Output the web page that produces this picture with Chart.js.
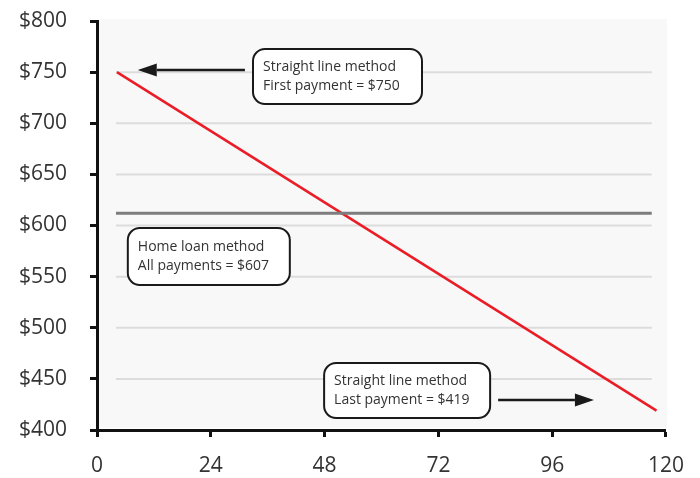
<!DOCTYPE html>
<html>
<head>
<meta charset="utf-8">
<script src="https://cdn.jsdelivr.net/npm/chart.js@4/dist/chart.umd.min.js"></script>
<style>
    html, body { margin: 0; padding: 0; background: #fff; }
    #wrap { width: 700px; height: 478px; }
</style>
</head>
<body>
<div id="wrap"><canvas id="loanChart"></canvas></div>
<script>
// Data
const straightMonths = [4.2, 118];
const straightPayments = [750, 419];
const homeLoanMonths = [4, 117];
const homeLoanPayments = [612, 612];
const gridValues = [450, 500, 550, 600, 650, 700, 750];
const gridSpan = [4, 117];

const FONT = "'Open Sans', 'Noto Sans', sans-serif";

// Annotation boxes, anchored in data units (month, dollars)
const notes = [
    { x: 32.9, y: 772.6, w: 169, h: 55, lines: ['Straight line method', 'First payment = $750'] },
    { x: 6.5, y: 597.6, w: 162, h: 57, lines: ['Home loan method', 'All payments = $607'] },
    { x: 47.9, y: 465.5, w: 166, h: 55, lines: ['Straight line method', 'Last payment = $419'] }
];
const arrows = [
    { from: [31.2, 752], to: [8.6, 752] },
    { from: [84.6, 429.3], to: [104.8, 429.3] }
];

const toPoints = (xs, ys) => xs.map((x, i) => ({ x: x, y: ys[i] }));

// plot background + light gridlines that stop short of the axes
const backdrop = {
    id: 'backdrop',
    beforeDatasetsDraw(chart) {
        const { ctx, chartArea, scales } = chart;
        ctx.save();
        ctx.fillStyle = '#f8f8f8';
        ctx.fillRect(chartArea.left + 2, chartArea.top - 2, chartArea.right - chartArea.left - 1, chartArea.bottom - chartArea.top);
        ctx.strokeStyle = '#dcdcdc';
        ctx.lineWidth = 2;
        const x0 = scales.x.getPixelForValue(gridSpan[0]);
        const x1 = scales.x.getPixelForValue(gridSpan[1]);
        gridValues.forEach(v => {
            const y = scales.y.getPixelForValue(v);
            ctx.beginPath();
            ctx.moveTo(x0, y);
            ctx.lineTo(x1, y);
            ctx.stroke();
        });
        ctx.restore();
    }
};

function roundRect(ctx, x, y, w, h, r) {
    ctx.beginPath();
    ctx.moveTo(x + r, y);
    ctx.arcTo(x + w, y, x + w, y + h, r);
    ctx.arcTo(x + w, y + h, x, y + h, r);
    ctx.arcTo(x, y + h, x, y, r);
    ctx.arcTo(x, y, x + w, y, r);
    ctx.closePath();
}

const callouts = {
    id: 'callouts',
    afterDatasetsDraw(chart) {
        const { ctx, scales } = chart;
        ctx.save();
        notes.forEach(n => {
            const left = scales.x.getPixelForValue(n.x);
            const top = scales.y.getPixelForValue(n.y);
            roundRect(ctx, left, top, n.w, n.h, 12);
            ctx.fillStyle = '#fff';
            ctx.fill();
            ctx.lineWidth = 2;
            ctx.strokeStyle = '#1a1a1a';
            ctx.stroke();
            ctx.fillStyle = '#333';
            ctx.font = '14px ' + FONT;
            ctx.textBaseline = 'middle';
            ctx.textAlign = 'left';
            const mid = top + n.h / 2;
            ctx.fillText(n.lines[0], left + 10, mid - 9.5);
            ctx.fillText(n.lines[1], left + 10, mid + 9.5);
        });
        arrows.forEach(a => {
            const fx = scales.x.getPixelForValue(a.from[0]);
            const fy = scales.y.getPixelForValue(a.from[1]);
            const tx = scales.x.getPixelForValue(a.to[0]);
            const ty = scales.y.getPixelForValue(a.to[1]);
            const dir = Math.sign(tx - fx);
            const head = 19;
            ctx.strokeStyle = '#1a1a1a';
            ctx.fillStyle = '#1a1a1a';
            ctx.lineWidth = 2.5;
            ctx.beginPath();
            ctx.moveTo(fx, fy);
            ctx.lineTo(tx - dir * head, ty);
            ctx.stroke();
            ctx.beginPath();
            ctx.moveTo(tx, ty);
            ctx.lineTo(tx - dir * head, ty - 6.5);
            ctx.lineTo(tx - dir * head, ty + 6.5);
            ctx.closePath();
            ctx.fill();
        });
        ctx.restore();
    }
};

new Chart(document.getElementById('loanChart').getContext('2d'), {
    type: 'line',
    data: {
        datasets: [
            {
                label: 'Home loan method',
                data: toPoints(homeLoanMonths, homeLoanPayments),
                borderColor: '#7d7d7d',
                borderWidth: 3,
                pointRadius: 0
            },
            {
                label: 'Straight line method',
                data: toPoints(straightMonths, straightPayments),
                borderColor: '#ea1c26',
                borderWidth: 2.5,
                pointRadius: 0
            }
        ]
    },
    options: {
        responsive: true,
        maintainAspectRatio: false,
        animation: false,
        layout: { padding: { top: 21, right: 34, left: 0, bottom: 0 } },
        plugins: {
            legend: { display: false },
            tooltip: { enabled: false }
        },
        scales: {
            x: {
                type: 'linear',
                min: 0,
                max: 120,
                ticks: {
                    stepSize: 24,
                    color: '#333',
                    padding: 16,
                    font: { family: FONT, size: 21 }
                },
                grid: { drawOnChartArea: false, tickLength: 7, tickWidth: 3, tickColor: '#111' },
                border: { color: '#111', width: 3 },
                afterFit(scale) { scale.height = 48; }
            },
            y: {
                min: 400,
                max: 800,
                ticks: {
                    stepSize: 50,
                    color: '#333',
                    padding: 23,
                    font: { family: FONT, size: 21 },
                    callback: v => '$' + v
                },
                grid: { drawOnChartArea: false, tickLength: 7, tickWidth: 3, tickColor: '#111' },
                border: { color: '#111', width: 3 },
                afterFit(scale) {
                    scale.width = 97;
                    // keep the big label gap from pushing the plot down
                    scale.paddingTop = 10;
                    scale.paddingBottom = 10;
                }
            }
        }
    },
    plugins: [backdrop, callouts]
});
</script>
</body>
</html>
